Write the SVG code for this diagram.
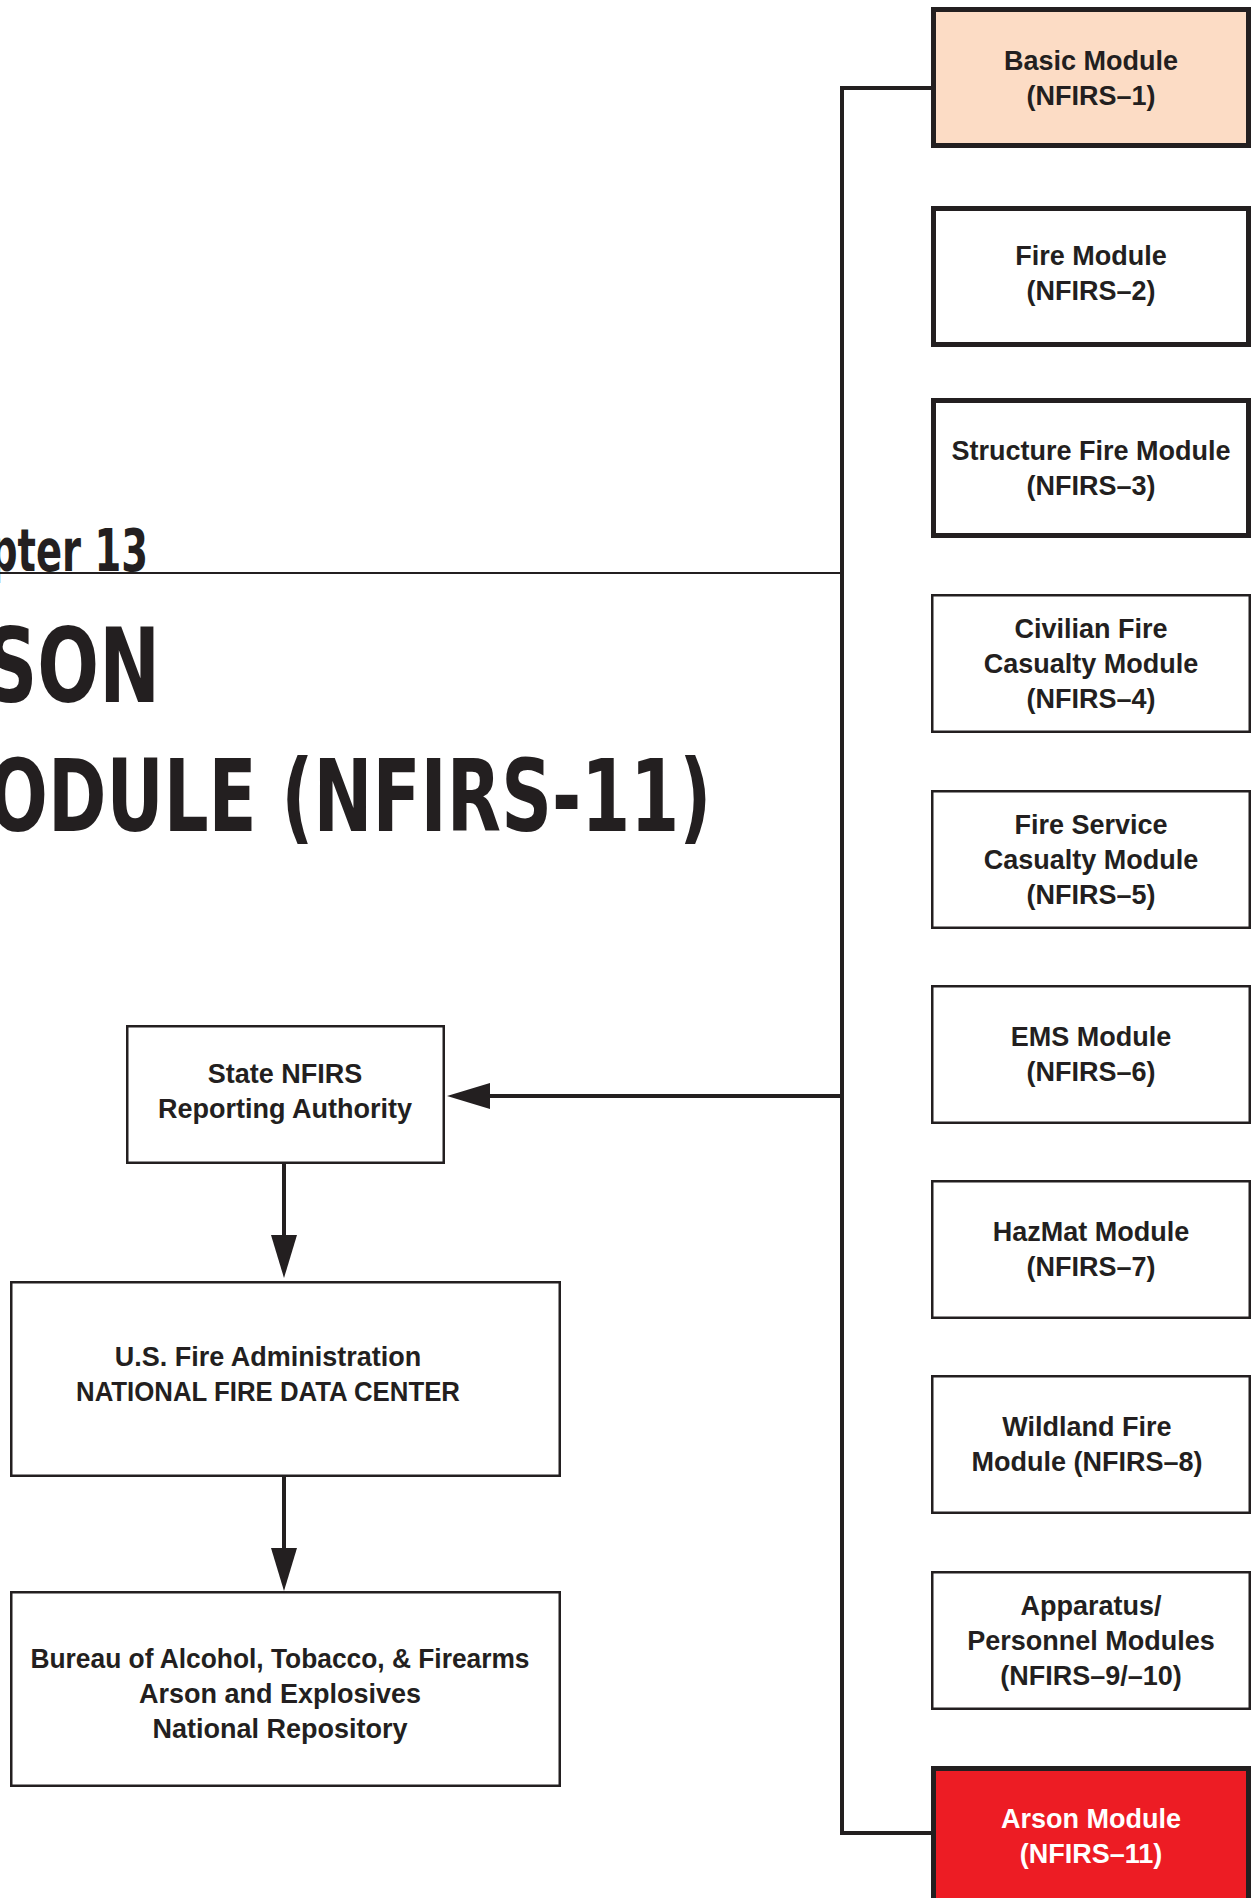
<svg xmlns="http://www.w3.org/2000/svg" width="1258" height="1898" viewBox="0 0 1258 1898">
<defs>
<style>
.box{fill:#fff;stroke:#231f20;stroke-width:2.5}
.thick{stroke-width:5}
.lbl{font-family:"Liberation Sans",Arial,sans-serif;font-weight:bold;font-size:27px;fill:#231f20;text-anchor:middle}
.title{font-family:"DejaVu Sans","Liberation Sans",sans-serif;font-weight:bold;fill:#231f20}
.conn{fill:none;stroke:#231f20;stroke-width:4;stroke-linejoin:miter}
</style>
<marker id="ah" markerUnits="userSpaceOnUse" markerWidth="44" markerHeight="28" refX="0" refY="13" orient="auto">
<path d="M0,0 L43,13 L0,26 Z" fill="#231f20"/>
</marker>
</defs>
<rect width="1258" height="1898" fill="#fff"/>

<g id="title">
<text class="title" transform="translate(-10,571) scale(0.664,1)" font-size="58">pter 13</text>
<line x1="0" y1="573" x2="842" y2="573" stroke="#231f20" stroke-width="2"/>
<text class="title" transform="translate(-15,702) scale(0.706,1)" font-size="103">SON</text>
<text class="title" transform="translate(-12,831) scale(0.705,1)" font-size="100">ODULE (NFIRS-11)</text>
</g>

<g id="connectors">
<path class="conn" d="M931,88 L842,88 L842,1833 L931,1833"/>
<path class="conn" d="M842,1096 L490,1096" marker-end="url(#ah)"/>
<path class="conn" d="M284,1164 L284,1235" marker-end="url(#ah)"/>
<path class="conn" d="M284,1477 L284,1548" marker-end="url(#ah)"/>
</g>

<g id="basic">
<rect class="box thick" x="933.5" y="9.5" width="315" height="136" style="fill:#fcdcc5"/>
<text class="lbl" x="1091" y="70">Basic Module</text>
<text class="lbl" x="1091" y="105">(NFIRS–1)</text>
</g>
<g id="fire">
<rect class="box thick" x="933.5" y="208.5" width="315" height="136"/>
<text class="lbl" x="1091" y="265">Fire Module</text>
<text class="lbl" x="1091" y="300">(NFIRS–2)</text>
</g>
<g id="structure">
<rect class="box thick" x="933.5" y="400.5" width="315" height="135"/>
<text class="lbl" x="1091" y="460">Structure Fire Module</text>
<text class="lbl" x="1091" y="495">(NFIRS–3)</text>
</g>
<g id="civilian">
<rect class="box" x="932.25" y="595.25" width="317.5" height="136.5"/>
<text class="lbl" x="1091" y="638">Civilian Fire</text>
<text class="lbl" x="1091" y="673">Casualty Module</text>
<text class="lbl" x="1091" y="708">(NFIRS–4)</text>
</g>
<g id="fireservice">
<rect class="box" x="932.25" y="791.25" width="317.5" height="136.5"/>
<text class="lbl" x="1091" y="834">Fire Service</text>
<text class="lbl" x="1091" y="869">Casualty Module</text>
<text class="lbl" x="1091" y="904">(NFIRS–5)</text>
</g>
<g id="ems">
<rect class="box" x="932.25" y="986.25" width="317.5" height="136.5"/>
<text class="lbl" x="1091" y="1046">EMS Module</text>
<text class="lbl" x="1091" y="1081">(NFIRS–6)</text>
</g>
<g id="hazmat">
<rect class="box" x="932.25" y="1181.25" width="317.5" height="136.5"/>
<text class="lbl" x="1091" y="1241">HazMat Module</text>
<text class="lbl" x="1091" y="1276">(NFIRS–7)</text>
</g>
<g id="wildland">
<rect class="box" x="932.25" y="1376.25" width="317.5" height="136.5"/>
<text class="lbl" x="1087" y="1436">Wildland Fire</text>
<text class="lbl" x="1087" y="1471">Module (NFIRS–8)</text>
</g>
<g id="apparatus">
<rect class="box" x="932.25" y="1572.25" width="317.5" height="136.5"/>
<text class="lbl" x="1091" y="1615">Apparatus/</text>
<text class="lbl" x="1091" y="1650">Personnel Modules</text>
<text class="lbl" x="1091" y="1685">(NFIRS–9/–10)</text>
</g>
<g id="arson">
<rect class="box thick" x="933.5" y="1768.5" width="315" height="140" style="fill:#ed1c24"/>
<text class="lbl" x="1091" y="1828" style="fill:#fff">Arson Module</text>
<text class="lbl" x="1091" y="1863" style="fill:#fff">(NFIRS–11)</text>
</g>

<g id="state">
<rect class="box" x="127.25" y="1026.25" width="316.5" height="136.5"/>
<text class="lbl" x="285" y="1083">State NFIRS</text>
<text class="lbl" x="285" y="1118">Reporting Authority</text>
</g>
<g id="usfa">
<rect class="box" x="11.25" y="1282.25" width="548.5" height="193.5"/>
<text class="lbl" x="268" y="1366">U.S. Fire Administration</text>
<text class="lbl" x="268" y="1401" textLength="384" lengthAdjust="spacingAndGlyphs">NATIONAL FIRE DATA CENTER</text>
</g>
<g id="atf">
<rect class="box" x="11.25" y="1592.25" width="548.5" height="193.5"/>
<text class="lbl" x="280" y="1668" textLength="499" lengthAdjust="spacingAndGlyphs">Bureau of Alcohol, Tobacco, &amp; Firearms</text>
<text class="lbl" x="280" y="1703">Arson and Explosives</text>
<text class="lbl" x="280" y="1738">National Repository</text>
</g>
</svg>
